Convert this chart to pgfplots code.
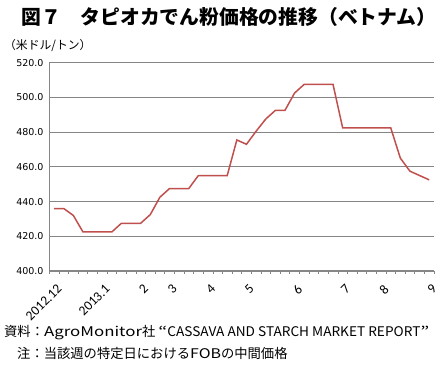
\documentclass[border=0pt]{standalone}
\usepackage{pgfplots}
\pgfplotsset{compat=1.18}
\usepackage{fontspec}
\setmainfont{Noto Sans CJK JP}
\newfontfamily\dejavu{DejaVu Sans}
\newfontfamily\carlito{Carlito}
\definecolor{linered}{RGB}{192,80,77}
\definecolor{axgray}{RGB}{134,134,134}
\begin{document}
\begin{tikzpicture}[x=1pt,y=1pt]
\useasboundingbox (0,0) rectangle (441,366);
\begin{axis}[
  at={(49.3pt,95pt)}, anchor=south west,
  scale only axis, width=384.7pt, height=208.3pt,
  xmin=0, xmax=40, ymin=400, ymax=520,
  axis x line*=bottom, axis y line*=left,
  axis line style={-, draw=axgray, line width=1.3pt},
  ytick={400,420,...,520},
  /pgf/number format/assume math mode=true,
  yticklabel style={font=\dejavu\fontsize{9.5}{10}\selectfont, xshift=2pt,
    /pgf/number format/fixed, /pgf/number format/fixed zerofill, /pgf/number format/precision=1},
  ytick style={draw=none},
  ymajorgrids, grid style={draw=axgray, line width=0.8pt},
  xtick={0.5,5.5,9.5,12.5,16.5,20.5,25.5,30.5,34.5,39.5},
  xticklabels={2012.12,2013.1,2,3,4,5,6,7,8,9},
  major x tick style={draw=none},
  minor xtick={0,1,...,40},
  minor tick length=3pt,
  tick align=outside,
  minor x tick style={draw=axgray, line width=0.6pt},
  xticklabel style={rotate=45, anchor=north east, xshift=-1pt, yshift=-4pt, font=\carlito\fontsize{13.5}{13.5}\selectfont},
]
\addplot[color=linered, line width=1.5pt, mark=none] coordinates {
(0.5,436) (1.5,436) (2.5,432) (3.5,422.5) (4.5,422.5) (5.5,422.5) (6.5,422.5)
(7.5,427.5) (8.5,427.5) (9.5,427.5) (10.5,432.5) (11.5,442.5) (12.5,447.5)
(13.5,447.5) (14.5,447.5) (15.5,455) (16.5,455) (17.5,455) (18.5,455)
(19.5,475.5) (20.5,473) (21.5,480.5) (22.5,487.5) (23.5,492.5) (24.5,492.5)
(25.5,502.5) (26.5,507.5) (27.5,507.5) (28.5,507.5) (29.5,507.5) (30.5,482.5)
(31.5,482.5) (32.5,482.5) (33.5,482.5) (34.5,482.5) (35.5,482.5) (36.5,465)
(37.5,457.5) (38.5,455) (39.5,452.5)
};
\end{axis}
\node[anchor=west, inner sep=0] at (21,349) {\fontsize{19.8}{20}\selectfont\bfseries 図７　タピオカでん粉価格の推移（ベトナム）};
\node[anchor=west, inner sep=0] at (4,320) {\fontsize{11.8}{12}\selectfont （米ドル/トン）};
\node[anchor=west, inner sep=0] at (4,33) {\fontsize{13.3}{14}\selectfont 資料：\resizebox{98pt}{\height}{AgroMonitor}社\hspace{3pt}\resizebox{9pt}{\height}{“}\resizebox{253pt}{\height}{CASSAVA AND STARCH MARKET REPORT}\resizebox{9pt}{\height}{”}};
\node[anchor=west, inner sep=0] at (17,13) {\fontsize{13.3}{14}\selectfont 注：当該週の特定日における\scalebox{1.2}[1]{FOB}の中間価格};
\end{tikzpicture}
\end{document}
